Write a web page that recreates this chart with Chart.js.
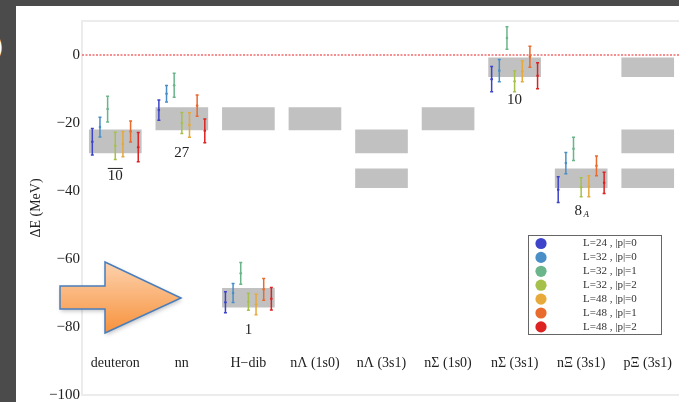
<!DOCTYPE html>
<html>
<head>
<meta charset="utf-8">
<script src="https://cdn.jsdelivr.net/npm/chart.js@4"></script>
<style>
  html, body { margin: 0; padding: 0; background: #4b4b4b; overflow: hidden; }
  #panel { position: absolute; left: 16px; top: 6px; width: 670px; height: 402px; background: #fff; }
  #mark { position: absolute; left: -7px; top: 34px; color: #fff; font: 28px "DejaVu Sans"; line-height: 1; }
</style>
</head>
<body>
<div id="mark">)</div>
<div id="panel"><canvas id="myChart" width="670" height="402"></canvas></div>
<script>
var channels = ['deuteron', 'nn', 'H\u2212dib', 'n\u039b (1s0)', 'n\u039b (3s1)', 'n\u03a3 (1s0)', 'n\u03a3 (3s1)', 'n\u039e (3s1)', 'p\u039e (3s1)'];

// SU(3) irreps: bands (low, high) and the channels each one appears in
var irrepNames = ['27', '10bar', '10', '8A', '1'];
var irrepLow = [-22.0, -28.8, -6.4, -39.0, -74.2];
var irrepHigh = [-15.5, -22.0, -0.8, -33.5, -68.6];
var irrepChannels = [[1, 2, 3, 5], [0, 4, 8], [6, 8], [4, 7, 8], [2]];
var irrepTagAt = [1, 0, 6, 7, 2];   // channel the irrep name is written under

// lattice ensembles
var ensembles = ['L=24 , |p|=0', 'L=32 , |p|=0', 'L=32 , |p|=1', 'L=32 , |p|=2', 'L=48 , |p|=0', 'L=48 , |p|=1', 'L=48 , |p|=2'];
var ensembleColors = ['#3d44c9', '#4a8ec8', '#6ab58a', '#a6c14b', '#e6a93a', '#e86a2c', '#dd2222'];
var fitChannels = [0, 1, 2, 6, 7];  // deuteron, nn, H-dib, nSigma(3s1), nXi(3s1)

var dE_L24p0 = [-25.5, -16.2, -72.7, -7.1, -39.6];
var dE_L32p0 = [-21.2, -11.4, -70.0, -4.6, -31.8];
var dE_L32p1 = [-15.9, -8.9, -64.2, 5.0, -27.6];
var dE_L32p2 = [-26.7, -20.0, -72.6, -7.7, -38.9];
var dE_L48p0 = [-26.2, -20.6, -73.4, -4.8, -38.6];
var dE_L48p1 = [-22.5, -14.9, -68.9, -0.5, -32.6];
var dE_L48p2 = [-27.1, -22.3, -71.7, -6.1, -37.6];

var err_L24p0 = [3.9, 3.0, 3.1, 3.7, 3.8];
var err_L32p0 = [2.9, 2.4, 2.8, 3.3, 3.1];
var err_L32p1 = [3.8, 3.5, 3.2, 3.3, 3.4];
var err_L32p2 = [4.0, 3.1, 2.5, 3.1, 2.8];
var err_L48p0 = [3.7, 3.6, 3.0, 3.1, 3.1];
var err_L48p1 = [3.1, 3.1, 3.2, 3.1, 2.9];
var err_L48p2 = [4.3, 3.5, 3.3, 3.8, 3.1];

var dE = [dE_L24p0, dE_L32p0, dE_L32p1, dE_L32p2, dE_L48p0, dE_L48p1, dE_L48p2];
var errs = [err_L24p0, err_L32p0, err_L32p1, err_L32p2, err_L48p0, err_L48p1, err_L48p2];

var serif = 'Liberation Serif';
var datasets = [];

irrepNames.forEach(function (name, r) {
  datasets.push({
    type: 'bar',
    label: name,
    data: irrepChannels[r].map(function (c) { return { x: c, y: [irrepLow[r], irrepHigh[r]] }; }),
    backgroundColor: '#c1c1c1',
    borderWidth: 0,
    barThickness: 52,
    grouped: false,
    order: 3
  });
});

datasets.push({
  type: 'line',
  label: 'zero',
  data: [{ x: -0.5, y: 0 }, { x: 8.5, y: 0 }],
  borderColor: 'rgba(240,80,80,0.85)',
  borderWidth: 1.5,
  borderDash: [2, 1.5],
  pointRadius: 0,
  order: 2
});

ensembles.forEach(function (name, k) {
  datasets.push({
    type: 'scatter',
    label: name,
    isEnsemble: true,
    data: fitChannels.map(function (c, j) {
      return { x: c + (k - 3) * 0.115, y: dE[k][j], err: errs[k][j] };
    }),
    borderColor: ensembleColors[k],
    backgroundColor: ensembleColors[k],
    pointRadius: 1.3,
    borderWidth: 0,
    order: 1
  });
});

// light frame round the plot area
var frame = {
  id: 'frame',
  beforeDatasetsDraw: function (chart) {
    var a = chart.chartArea, ctx = chart.ctx;
    ctx.save();
    ctx.strokeStyle = '#ececec';
    ctx.lineWidth = 2;
    ctx.strokeRect(a.left, a.top, a.right - a.left, a.bottom - a.top);
    ctx.restore();
  }
};

// vertical error bars with small caps
var errorBars = {
  id: 'errorBars',
  afterDatasetsDraw: function (chart) {
    var ctx = chart.ctx, ys = chart.scales.y;
    chart.data.datasets.forEach(function (ds, i) {
      if (!ds.isEnsemble) return;
      var meta = chart.getDatasetMeta(i);
      ctx.save();
      ctx.strokeStyle = ds.borderColor;
      ctx.lineWidth = 1.5;
      meta.data.forEach(function (pt, j) {
        var d = ds.data[j];
        var top = ys.getPixelForValue(d.y + d.err), bot = ys.getPixelForValue(d.y - d.err);
        ctx.beginPath();
        ctx.moveTo(pt.x, top); ctx.lineTo(pt.x, bot);
        ctx.moveTo(pt.x - 1.5, top); ctx.lineTo(pt.x + 1.5, top);
        ctx.moveTo(pt.x - 1.5, bot); ctx.lineTo(pt.x + 1.5, bot);
        ctx.stroke();
      });
      ctx.restore();
    });
  }
};

// channel names inside the plot and irrep names under the bands
var texts = {
  id: 'texts',
  afterDatasetsDraw: function (chart) {
    var ctx = chart.ctx, xs = chart.scales.x, ys = chart.scales.y, a = chart.chartArea;
    ctx.save();
    ctx.fillStyle = '#222';
    ctx.textAlign = 'center';
    ctx.textBaseline = 'middle';
    ctx.font = '14px "' + serif + '"';
    channels.forEach(function (c, i) {
      ctx.fillText(c, xs.getPixelForValue(i), a.bottom - 32);
    });

    ctx.font = '15px "' + serif + '"';
    irrepNames.forEach(function (name, r) {
      var px = xs.getPixelForValue(irrepTagAt[r]);
      var py = ys.getPixelForValue(irrepLow[r]) + 23;
      if (name === '10bar') {
        var w = ctx.measureText('10').width;
        ctx.fillText('10', px, py);
        ctx.fillRect(px - w / 2, py - 8, w, 1);
      } else if (name === '8A') {
        ctx.fillText('8', px - 3, py);
        ctx.font = 'italic 9px "' + serif + '"';
        ctx.fillText('A', px + 5, py + 4);
        ctx.font = '15px "' + serif + '"';
      } else {
        ctx.fillText(name, px, py);
      }
    });
    ctx.restore();
  }
};

// boxed legend in the lower right of the plot
var boxLegend = {
  id: 'boxLegend',
  afterDatasetsDraw: function (chart) {
    var ctx = chart.ctx, a = chart.chartArea;
    var w = 133, h = 99;
    var left = a.right - 20 - w, top = a.top + 214;
    ctx.save();
    ctx.fillStyle = '#fff';
    ctx.fillRect(left, top, w, h);
    ctx.strokeStyle = '#666';
    ctx.lineWidth = 1;
    ctx.strokeRect(left + 0.5, top + 0.5, w, h);
    ctx.font = '11px "' + serif + '"';
    ctx.textBaseline = 'middle';
    ctx.textAlign = 'left';
    ensembles.forEach(function (name, k) {
      var cy = top + 8.5 + k * 13.9;
      ctx.fillStyle = ensembleColors[k];
      ctx.beginPath();
      ctx.arc(left + 13, cy, 5.6, 0, Math.PI * 2);
      ctx.fill();
      ctx.fillStyle = '#333';
      ctx.fillText(name, left + 55, cy);
    });
    ctx.restore();
  }
};

// orange callout arrow
var callout = {
  id: 'callout',
  afterDraw: function (chart) {
    var ctx = chart.ctx;
    ctx.save();
    var g = ctx.createLinearGradient(0, 256, 0, 327);
    g.addColorStop(0, '#fdd2ae');
    g.addColorStop(1, '#f7923c');
    ctx.beginPath();
    ctx.moveTo(44, 280);
    ctx.lineTo(89, 280);
    ctx.lineTo(89, 256);
    ctx.lineTo(165, 292);
    ctx.lineTo(89, 327);
    ctx.lineTo(89, 303);
    ctx.lineTo(44, 303);
    ctx.closePath();
    ctx.shadowColor = 'rgba(0,0,0,0.25)';
    ctx.shadowBlur = 4;
    ctx.shadowOffsetX = 1;
    ctx.shadowOffsetY = 2;
    ctx.fillStyle = g;
    ctx.fill();
    ctx.shadowColor = 'transparent';
    ctx.strokeStyle = '#4a7ebb';
    ctx.lineWidth = 1.5;
    ctx.stroke();
    ctx.restore();
  }
};

var ctx = document.getElementById('myChart').getContext('2d');
var chart = new Chart(ctx, {
  type: 'scatter',
  data: { datasets: datasets },
  options: {
    responsive: false,
    animation: false,
    layout: { padding: { top: 15, bottom: 13, left: 0, right: 5 } },
    plugins: { legend: { display: false }, tooltip: { enabled: false } },
    scales: {
      x: { type: 'linear', min: -0.5, max: 8.5, offset: false, display: false },
      y: {
        min: -100, max: 10,
        afterFit: function (s) { s.width = 66; },
        border: { display: false },
        grid: { display: false, drawTicks: false },
        ticks: {
          stepSize: 20,
          padding: 2,
          color: '#222',
          font: { family: serif, size: 15 },
          callback: function (v) { return v > 0 ? '' : String(v).replace('-', '\u2212'); }
        },
        title: {
          display: true,
          text: '\u0394E (MeV)',
          color: '#222',
          font: { family: serif, size: 14 },
          padding: { top: 12, bottom: 0 }
        }
      }
    }
  },
  plugins: [frame, errorBars, texts, boxLegend, callout]
});
</script>
</body>
</html>
